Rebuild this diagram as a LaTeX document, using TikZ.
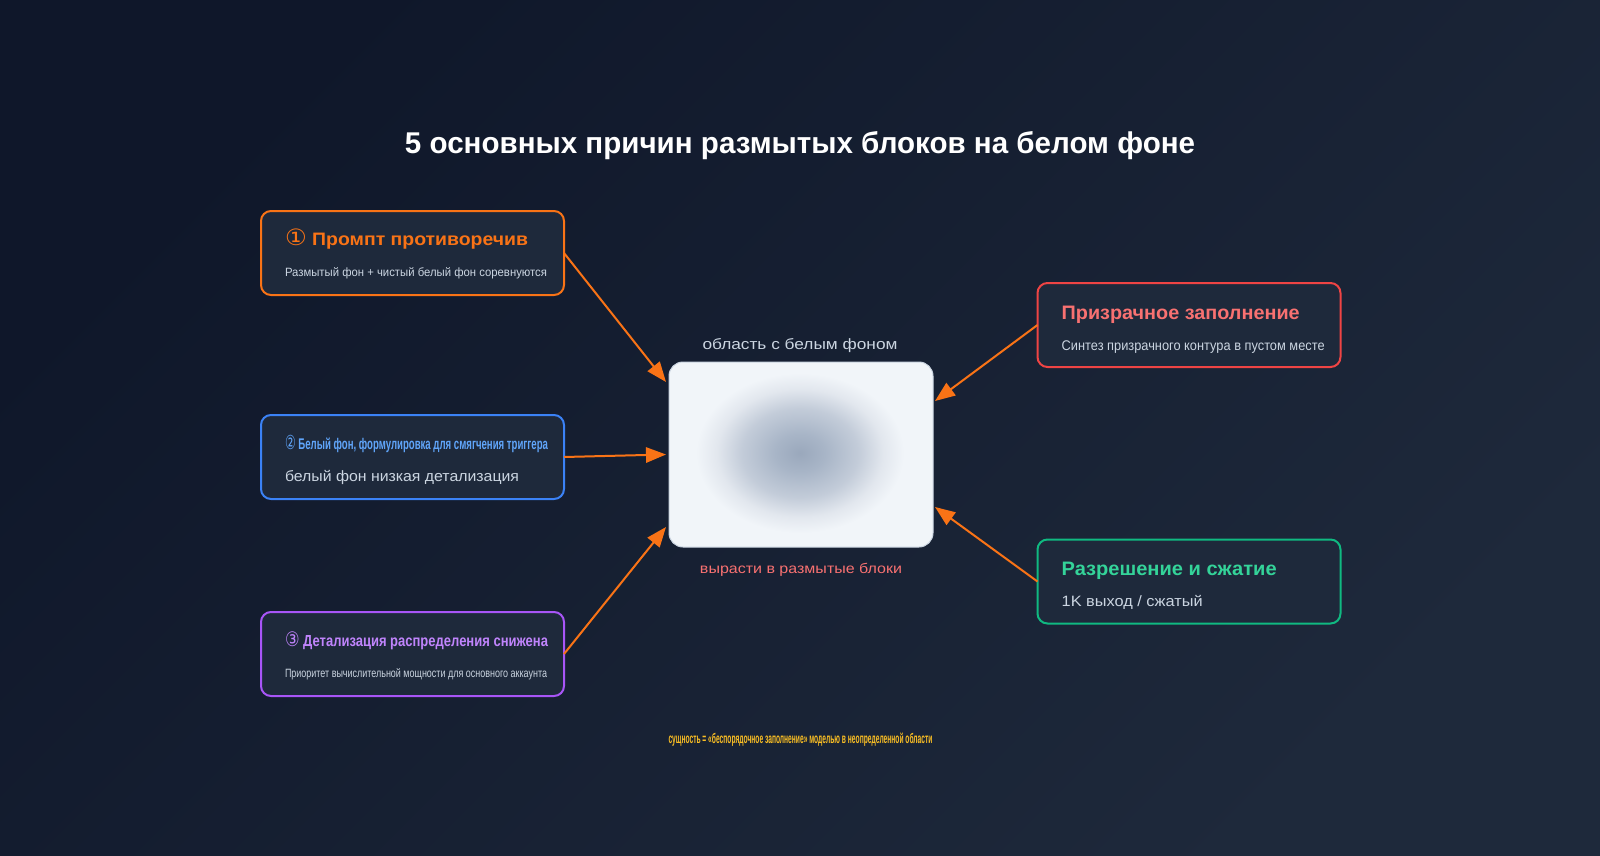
\documentclass[tikz,border=0pt]{standalone}
\usepackage{fontspec}
\setmainfont{Liberation Sans}
\newfontfamily\dejavu{DejaVu Sans}
\usetikzlibrary{arrows.meta,calc}
\newdimen\pxl \pxl=0.75pt
\newcommand\fitw[2]{\resizebox{#1\pxl}{\height}{#2}}
\newcommand\circnum[1]{{\dejavu\mdseries\scalebox{1.25}{#1}}}
\definecolor{bgA}{HTML}{0F172A}
\definecolor{bgB}{HTML}{1E293B}
\definecolor{cardfill}{HTML}{1E293B}
\definecolor{corange}{HTML}{F97316}
\definecolor{cblueb}{HTML}{3B82F6}
\definecolor{cbluet}{HTML}{60A5FA}
\definecolor{cpurpb}{HTML}{A855F7}
\definecolor{cpurpt}{HTML}{C084FC}
\definecolor{credb}{HTML}{EF4444}
\definecolor{credt}{HTML}{F87171}
\definecolor{cgreenb}{HTML}{10B981}
\definecolor{cgreent}{HTML}{34D399}
\definecolor{csub}{HTML}{CBD5E1}
\definecolor{cyellow}{HTML}{FBBF24}
\definecolor{cbfill}{HTML}{F1F5F9}
\definecolor{cbline}{HTML}{CBD5E1}
\definecolor{blobA}{HTML}{9AA8BC}
\definecolor{blobB}{HTML}{A8B5C7}
\definecolor{blobC}{HTML}{C3CCD9}
\definecolor{blobD}{HTML}{E2E7EE}
\pgfdeclareradialshading{blob}{\pgfpoint{0bp}{0bp}}{color(0bp)=(blobA); color(6bp)=(blobB); color(14bp)=(blobC); color(20bp)=(blobD); color(25bp)=(cbfill); color(50bp)=(cbfill)}
\tikzset{
  card/.style={draw=#1, line width=1.5pt, fill=cardfill, rounded corners=7.5pt,
    minimum width=227.25pt, minimum height=63pt, inner sep=0pt, outer sep=0pt},
  txt/.style={anchor=base west, inner sep=0pt, outer sep=0pt},
  ctxt/.style={anchor=base, inner sep=0pt, outer sep=0pt},
  arr/.style={draw=corange, line width=1.5pt, -{Triangle[length=15pt,width=11.5pt]}}
}
\begin{document}
\begin{tikzpicture}[x=0.75pt,y=-0.75pt]
\useasboundingbox (0,0) rectangle (1600,856);
\shade[top color=bgA, bottom color=bgB, shading angle=45] (0,0) rectangle (1600,856);

% title
\node[ctxt, text=white] (title) at (800,153.4) {\fitw{790}{\fontsize{22.5pt}{26pt}\selectfont\bfseries 5 основных причин размытых блоков на белом фоне}};

% center box
\node[draw=cbline, line width=0.75pt, fill=cbfill, rounded corners=10.5pt, minimum width=198pt, minimum height=138.75pt, inner sep=0pt, outer sep=0pt] (cb) at (801,454.5) {};
\shade[shading=blob] ($(cb.center)+(-1,-1.5)$) ellipse [x radius=78pt, y radius=60pt];
\node[ctxt, text=csub] (lab1) at (800,349.3) {\fitw{195}{\fontsize{11.25pt}{13pt}\selectfont область с белым фоном}};
\node[ctxt, text=credt] (lab2) at (801,573.3) {\fitw{202}{\fontsize{10.5pt}{13pt}\selectfont вырасти в размытые блоки}};

% cards
\node[card=corange] (b1) at (412.5,253) {};
\node[card=cblueb] (b2) at (412.5,457) {};
\node[card=cpurpb] (b3) at (412.5,654) {};
\node[card=credb] (b4) at (1189,325) {};
\node[card=cgreenb] (b5) at (1189,581.5) {};

\node[txt, text=corange] (t1) at (285,245.7) {\fitw{243}{\fontsize{13.5pt}{16pt}\selectfont\bfseries\circnum{①} Промпт противоречив}};
\node[txt, text=csub] (s1) at (285,276) {\fitw{262}{\fontsize{9pt}{11pt}\selectfont Размытый фон + чистый белый фон соревнуются}};

\node[txt, text=cbluet] (t2) at (285,449.3) {\fitw{263}{\fontsize{11.6pt}{14pt}\selectfont\bfseries\circnum{②} Белый фон, формулировка для смягчения триггера}};
\node[txt, text=csub] (s2) at (285,481) {\fitw{234}{\fontsize{11.25pt}{14pt}\selectfont белый фон низкая детализация}};

\node[txt, text=cpurpt] (t3) at (285,646.7) {\fitw{263}{\fontsize{12pt}{14pt}\selectfont\bfseries\circnum{③} Детализация распределения снижена}};
\node[txt, text=csub] (s3) at (285,677.3) {\fitw{262}{\fontsize{9pt}{11pt}\selectfont Приоритет вычислительной мощности для основного аккаунта}};

\node[txt, text=credt] (t4) at (1061.7,319) {\fitw{238}{\fontsize{14.6pt}{17pt}\selectfont\bfseries Призрачное заполнение}};
\node[txt, text=csub] (s4) at (1061.7,350) {\fitw{263}{\fontsize{10.5pt}{13pt}\selectfont Синтез призрачного контура в пустом месте}};

\node[txt, text=cgreent] (t5) at (1061.7,575) {\fitw{215}{\fontsize{14.6pt}{17pt}\selectfont\bfseries Разрешение и сжатие}};
\node[txt, text=csub] (s5) at (1061.7,606) {\fitw{141}{\fontsize{11.25pt}{14pt}\selectfont 1K выход / сжатый}};

% footer
\node[ctxt, text=cyellow] (foot) at (800.5,743.3) {\fitw{264}{\fontsize{10.5pt}{12pt}\selectfont\bfseries сущность = «беспорядочное заполнение» моделью в неопределенной области}};

% arrows
\draw[arr] (b1.east) -- ($(cb.north west)+(-3,20)$);
\draw[arr] (b2.east) -- ($(cb.west)+(-3,0)$);
\draw[arr] (b3.east) -- ($(cb.south west)+(-3,-20)$);
\draw[arr] (b4.west) -- ($(cb.north east)+(2,39)$);
\draw[arr] (b5.west) -- ($(cb.south east)+(2,-40)$);
\end{tikzpicture}
\end{document}
